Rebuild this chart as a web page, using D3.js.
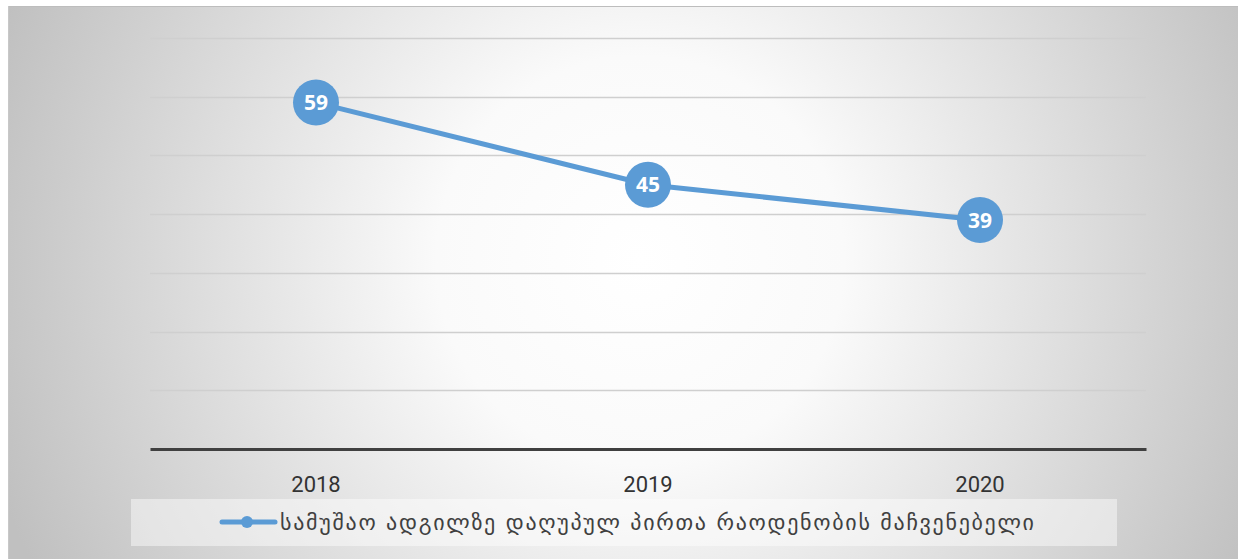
<!DOCTYPE html>
<html><head><meta charset="utf-8">
<script src="https://cdn.jsdelivr.net/npm/d3@7"></script>
<style>html,body{margin:0;padding:0;background:#fff;}svg{display:block;}</style>
</head><body>
<svg id="chart" width="1238" height="559"></svg>
<script>
const categories = ["2018", "2019", "2020"];
const values = [59, 45, 39];
const yTicks = [0, 10, 20, 30, 40, 50, 60, 70];
const seriesName = "სამუშაო ადგილზე დაღუპულ პირთა რაოდენობის მაჩვენებელი";

const svg = d3.select("#chart");
const defs = svg.append("defs");
const grad = defs.append("radialGradient").attr("id", "bg")
  .attr("gradientUnits", "userSpaceOnUse")
  .attr("cx", 640).attr("cy", 260).attr("r", 680);
grad.append("stop").attr("offset", "0").attr("stop-color", "#ffffff");
grad.append("stop").attr("offset", "0.3").attr("stop-color", "#fafafa");
grad.append("stop").attr("offset", "1").attr("stop-color", "#c0c0c0");

svg.append("rect").attr("x", 8).attr("y", 6).attr("width", 1230).attr("height", 553)
  .attr("fill", "url(#bg)");
svg.append("line").attr("x1", 8).attr("x2", 1238).attr("y1", 6.5).attr("y2", 6.5)
  .attr("stroke", "#bdbdbd").attr("stroke-width", 1);
svg.append("line").attr("x1", 8.5).attr("x2", 8.5).attr("y1", 6).attr("y2", 559)
  .attr("stroke", "#c8c8c8").attr("stroke-width", 1);

const x = d3.scaleBand().domain(categories).range([150, 1146]);
const y = d3.scaleLinear().domain([0, 70]).range([449, 38]);

// gridlines
svg.append("g").selectAll("line").data(yTicks.filter(d => d > 0)).join("line")
  .attr("x1", 150).attr("x2", 1146)
  .attr("y1", d => Math.round(y(d)) + 0.5).attr("y2", d => Math.round(y(d)) + 0.5)
  .attr("stroke", "#cfcfcf").attr("stroke-width", 1.3);

// x axis
const xAxis = svg.append("g").attr("transform", "translate(0,449)")
  .call(d3.axisBottom(x).tickSize(0).tickPadding(27));
xAxis.select(".domain").attr("stroke", "#404040").attr("stroke-width", 3);
xAxis.selectAll("text").attr("font-family", "Roboto, sans-serif")
  .attr("font-size", 22).attr("font-weight", 400).attr("fill", "#333333");

// line
const cx = d => x(d) + x.bandwidth() / 2;
const data = categories.map((c, i) => ({ c, v: values[i] }));
svg.append("path").datum(data)
  .attr("d", d3.line().x(d => cx(d.c)).y(d => y(d.v)))
  .attr("fill", "none").attr("stroke", "#5b9bd5").attr("stroke-width", 5)
  .attr("stroke-linecap", "round");

const pts = svg.append("g").selectAll("g").data(data).join("g")
  .attr("transform", d => `translate(${cx(d.c)},${y(d.v)})`);
pts.append("circle").attr("r", 23).attr("fill", "#5b9bd5");
pts.append("text").text(d => d.v).attr("text-anchor", "middle").attr("dy", "0.36em")
  .attr("font-family", "'Open Sans', sans-serif").attr("font-weight", "bold")
  .attr("font-size", 21).attr("fill", "#ffffff");

// legend
svg.append("rect").attr("x", 131).attr("y", 499).attr("width", 986).attr("height", 47)
  .attr("fill", "#ffffff").attr("fill-opacity", 0.45);
svg.append("line").attr("x1", 222).attr("x2", 275).attr("y1", 522).attr("y2", 522)
  .attr("stroke", "#5b9bd5").attr("stroke-width", 5).attr("stroke-linecap", "round");
svg.append("circle").attr("cx", 247).attr("cy", 522).attr("r", 6).attr("fill", "#5b9bd5");
svg.append("text").attr("x", 280).attr("y", 530).text(seriesName)
  .attr("textLength", 754).attr("lengthAdjust", "spacing")
  .attr("font-family", "'DejaVu Sans', sans-serif").attr("font-size", 22).attr("fill", "#404040");
</script>
</body></html>
